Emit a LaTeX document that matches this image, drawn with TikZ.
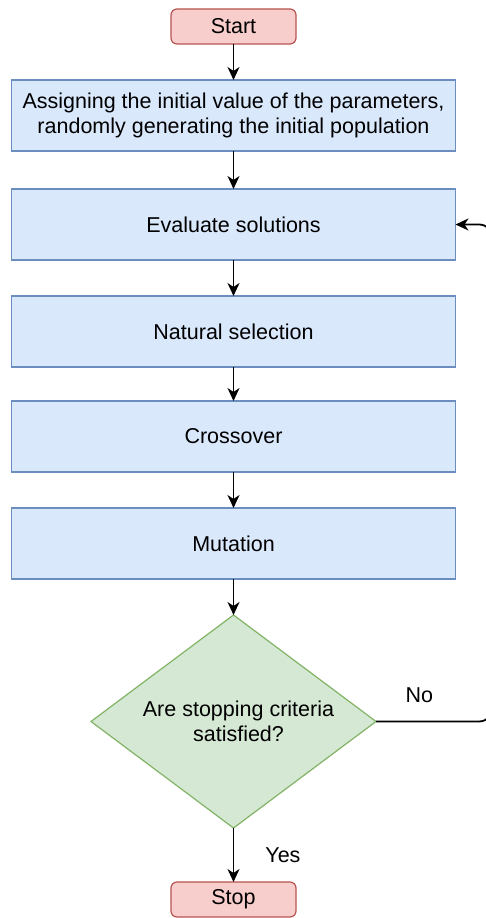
\documentclass[tikz,border=0pt]{standalone}
\usepackage{fontspec}
\setmainfont{Liberation Sans}
\usetikzlibrary{arrows.meta, positioning, shapes.geometric}
\definecolor{termfill}{HTML}{F8CECC}
\definecolor{termline}{HTML}{B85450}
\definecolor{procfill}{HTML}{DAE8FC}
\definecolor{procline}{HTML}{6C8EBF}
\definecolor{decfill}{HTML}{D5E8D4}
\definecolor{decline}{HTML}{82B366}

\begin{document}
\begin{tikzpicture}[
        x=1pt, y=1pt,
        term/.style={draw=termline, fill=termfill, line width=1.2pt, rounded corners=6pt,
                     minimum width=125pt, minimum height=35pt, inner sep=0pt, outer sep=0pt},
        proc/.style={draw=procline, fill=procfill, line width=1.6pt,
                     minimum width=444pt, minimum height=71pt, inner sep=0pt, outer sep=0pt,
                     align=center},
        decide/.style={diamond, draw=decline, fill=decfill, line width=1.2pt, aspect=1.338,
                       minimum width=285pt, minimum height=213pt, inner sep=0pt, outer sep=0pt,
                       align=center},
        arr/.style={-{Stealth[length=13pt, width=12pt, inset=4pt]}, line width=1.8pt},
        lbl/.style={inner sep=0pt},
        font=\fontsize{21.5}{25}\selectfont
      ]
      \useasboundingbox[fill=white] (0,0) rectangle (485,918);

      % Ablauf von oben nach unten
      \node[term] (start) at (233.5,891.5) {Start};
      \node[proc, below=36pt of start] (init)
           {Assigning the initial value of the parameters,\\randomly generating the initial population};
      \node[proc, below=38pt of init]  (eval) {Evaluate solutions};
      \node[proc, below=36pt of eval]  (sel)  {Natural selection};
      \node[proc, below=34pt of sel]   (cross) {Crossover};
      \node[proc, below=36pt of cross] (mut)  {Mutation};
      \node[decide, below=36pt of mut] (dec)  {};
      \node[lbl, align=center] (q) at ([xshift=5pt]dec.center) {Are stopping criteria\\satisfied?};
      \node[term, below=54pt of dec]   (stop) {Stop};

      % Pfeile
      \draw[arr] (start) -- (init);
      \draw[arr] (init) -- (eval);
      \draw[arr] (eval) -- (sel);
      \draw[arr] (sel) -- (cross);
      \draw[arr] (cross) -- (mut);
      \draw[arr] (mut) -- (dec);
      \draw[arr] (dec) -- node[lbl, right=31pt, pos=0.5] {Yes} (stop);
      \draw[arr, rounded corners=14pt] (dec.east)
           -- node[lbl, above=18pt, pos=0.37] {No} ++(117,0) |- (eval.east);
    \end{tikzpicture}
\end{document}
